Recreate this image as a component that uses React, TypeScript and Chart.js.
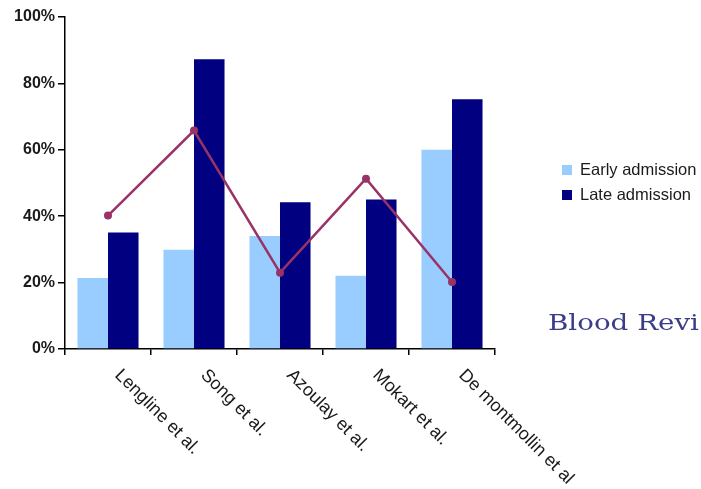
import React, { useEffect, useRef } from "react";
import { Chart, registerables } from "chart.js";

Chart.register(...registerables);

const categories = ["Lengline et al.", "Song et al.", "Azoulay et al.", "Mokart et al.", "De montmollin et al"];
const earlyAdmission = [21.4, 29.9, 34.0, 22.1, 60.0];
const lateAdmission = [35.1, 87.3, 44.2, 45.0, 75.2];
const mortalityLine = [40.2, 65.8, 23.0, 51.3, 20.2];
const yTicks = [0, 20, 40, 60, 80, 100];
const seriesNames = ["Early admission", "Late admission"];
const watermarkText = "Blood Revi";

const FONT = "'Liberation Sans', Arial, sans-serif";

const xLabelsPlugin = {
  id: "xLabels",
  afterDraw(chart: any) {
    const ctx = chart.ctx;
    const xs = chart.scales.x;
    const ys = chart.scales.y;
    ctx.save();
    ctx.font = `18px ${FONT}`;
    ctx.fillStyle = "#1a1a1a";
    ctx.textAlign = "left";
    ctx.textBaseline = "top";
    categories.forEach((c, i) => {
      const x = xs.getPixelForValue(i);
      ctx.save();
      ctx.translate(x + 16, ys.bottom + 17);
      ctx.rotate(Math.PI / 4);
      ctx.fillText(c, 0, 0);
      ctx.restore();
    });
    ctx.restore();
  },
};

const legendPlugin = {
  id: "customLegend",
  afterDraw(chart: any) {
    const ctx = chart.ctx;
    ctx.save();
    ctx.font = `16.5px ${FONT}`;
    ctx.textBaseline = "middle";
    ctx.textAlign = "left";
    const rows = [170, 195];
    seriesNames.forEach((name, i) => {
      const ds = chart.data.datasets[i];
      ctx.fillStyle = ds.backgroundColor;
      ctx.fillRect(562, rows[i] - 5, 10, 10);
      ctx.fillStyle = "#1a1a1a";
      ctx.fillText(name, 580, rows[i]);
    });
    ctx.font = `22px 'DejaVu Serif', 'Liberation Serif', serif`;
    ctx.fillStyle = "#3a3d88";
    ctx.textBaseline = "alphabetic";
    ctx.translate(548, 330);
    ctx.scale(1.26, 1);
    ctx.fillText(watermarkText, 0, 0);
    ctx.restore();
  },
};

export default function App() {
  const ref = useRef<HTMLCanvasElement>(null);
  useEffect(() => {
    document.body.style.margin = "0";
    const chart = new Chart(ref.current!, {
      type: "bar",
      data: {
        labels: categories,
        datasets: [
          {
            type: "bar",
            label: seriesNames[0],
            data: earlyAdmission,
            backgroundColor: "#99CCFF",
            order: 1,
            categoryPercentage: 0.71,
            barPercentage: 1,
          },
          {
            type: "bar",
            label: seriesNames[1],
            data: lateAdmission,
            backgroundColor: "#000080",
            order: 1,
            categoryPercentage: 0.71,
            barPercentage: 1,
          },
          {
            type: "line",
            label: "Mortality",
            data: mortalityLine,
            borderColor: "#993366",
            backgroundColor: "#993366",
            borderWidth: 2.5,
            pointRadius: 4,
            pointBackgroundColor: "#993366",
            pointBorderWidth: 0,
            order: 0,
            tension: 0,
          },
        ] as any,
      },
      options: {
        animation: false,
        responsive: false,
        maintainAspectRatio: false,
        layout: { padding: { top: 17, right: 206, bottom: 0, left: 0 } },
        plugins: {
          legend: { display: false },
          tooltip: { enabled: false },
        },
        scales: {
          x: {
            offset: true,
            grid: {
              offset: true,
              drawOnChartArea: false,
              drawTicks: true,
              tickLength: 6,
              color: "#000",
              lineWidth: 1.5,
            },
            border: { display: true, color: "#000", width: 1.5 },
            ticks: { display: false },
            afterFit: (s: any) => {
              s.height = 140;
            },
          },
          y: {
            min: 0,
            max: 100,
            afterBuildTicks: (s: any) => {
              s.ticks = yTicks.map((v) => ({ value: v }));
            },
            grid: {
              drawOnChartArea: false,
              drawTicks: true,
              tickLength: 7,
              color: "#000",
              lineWidth: 1.5,
            },
            border: { display: true, color: "#000", width: 1.5 },
            ticks: {
              padding: 3,
              color: "#1a1a1a",
              font: { family: FONT, size: 16, weight: "bold" },
              callback: (v: any) => `${v}%`,
            },
            afterFit: (s: any) => {
              s.width = 65;
            },
          },
        },
      },
      plugins: [xLabelsPlugin, legendPlugin],
    });
    return () => chart.destroy();
  }, []);
  return (
    <div style={{ position: "fixed", left: 0, top: 0, width: 701, height: 489, background: "#fff" }}>
      <canvas ref={ref} width={701} height={489} style={{ width: 701, height: 489 }} />
    </div>
  );
}
